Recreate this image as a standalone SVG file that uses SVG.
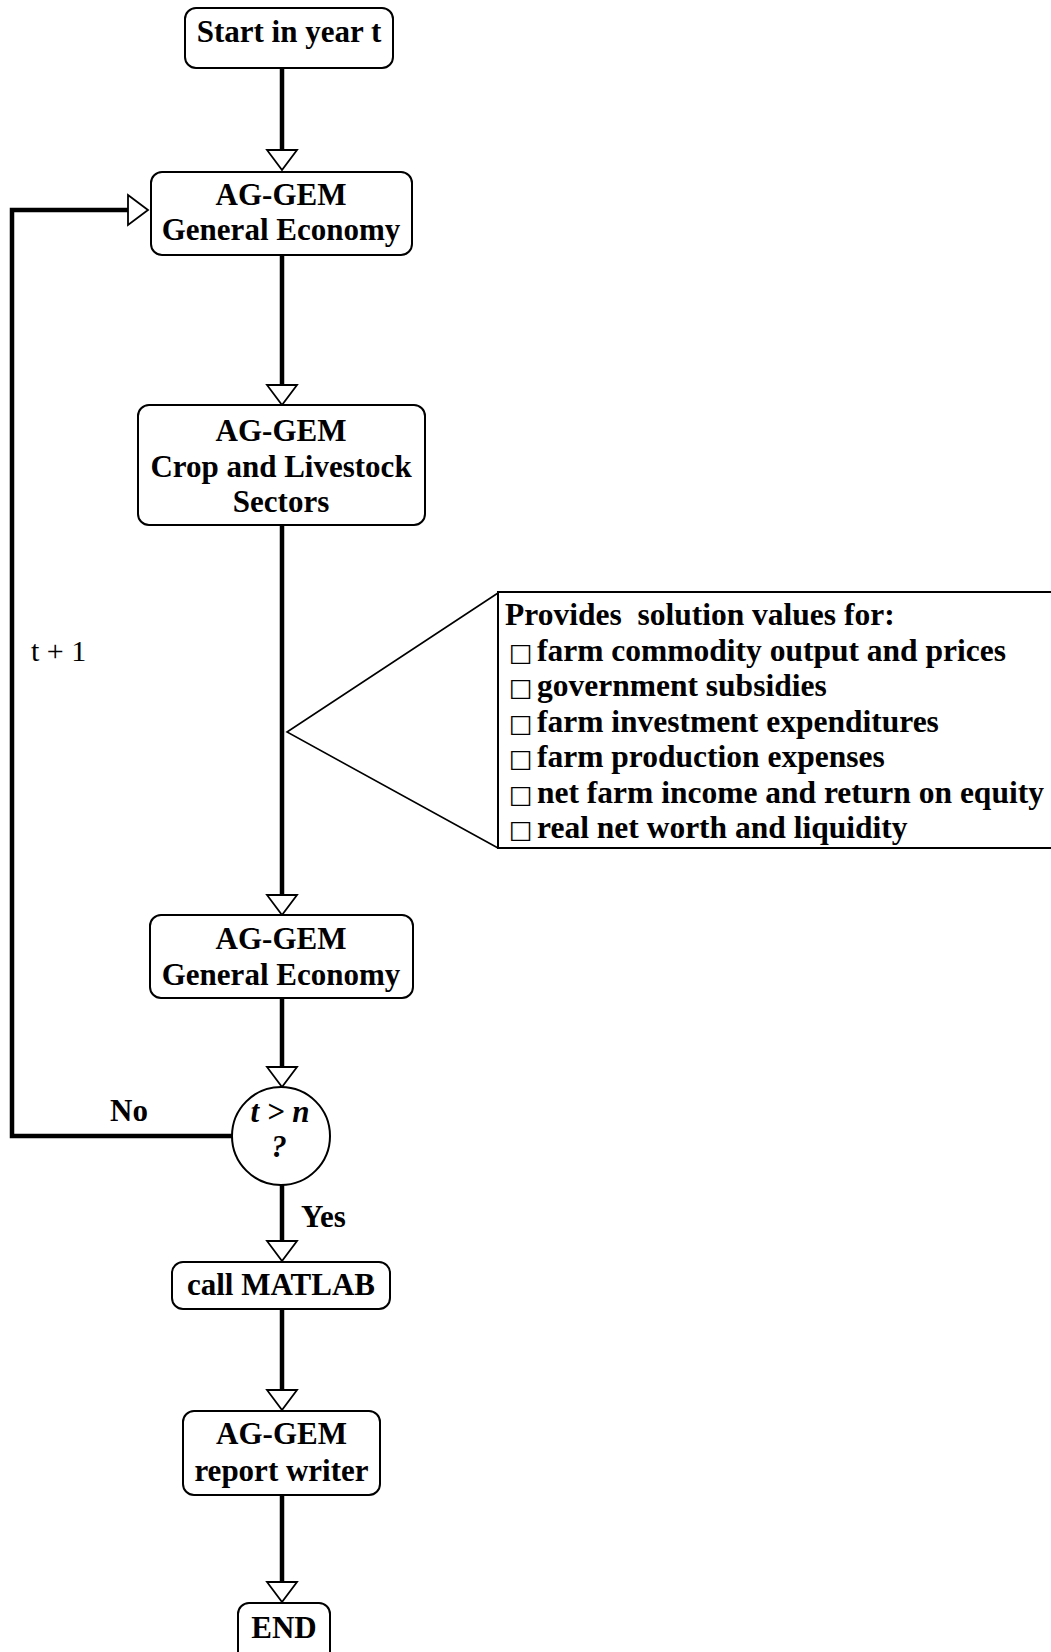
<svg xmlns="http://www.w3.org/2000/svg" width="1051" height="1652" viewBox="0 0 1051 1652">
<style>
  .bg { fill: #ffffff; }
  .box { fill: #ffffff; stroke: #000000; stroke-width: 2; }
  .t { font-family: "Liberation Serif", "Times New Roman", serif; font-weight: bold; font-size: 31px; fill: #000000; text-anchor: middle; }
  .lbl { font-family: "Liberation Serif", "Times New Roman", serif; font-weight: bold; font-size: 31px; fill: #000000; }
  .plain { font-family: "Liberation Serif", "Times New Roman", serif; font-weight: normal; font-size: 30px; fill: #000000; }
  .ct { font-family: "Liberation Serif", "Times New Roman", serif; font-weight: bold; font-size: 31.5px; fill: #000000; white-space: pre; }
  .sq { font-family: "DejaVu Sans", sans-serif; font-weight: normal; font-size: 25px; }
  .flow { fill: none; stroke: #000000; stroke-width: 4.5; }
  .thin { fill: none; stroke: #000000; stroke-width: 1.6; }
</style>
<defs>
  <marker id="hollow" markerUnits="userSpaceOnUse" viewBox="-2 -17 24 34" markerWidth="24" markerHeight="34" refX="0" refY="0" orient="auto">
    <path d="M0,-15 L20,0 L0,15 Z" fill="#ffffff" stroke="#000000" stroke-width="1.8"/>
  </marker>
</defs>
<rect class="bg" x="0" y="0" width="1051" height="1652"/>

<g id="connectors">
  <path class="flow" d="M282,68 V150" marker-end="url(#hollow)"/>
  <path class="flow" d="M282,255 V385" marker-end="url(#hollow)"/>
  <path class="flow" d="M282,525 V895" marker-end="url(#hollow)"/>
  <path class="flow" d="M282,998 V1067" marker-end="url(#hollow)"/>
  <path class="flow" d="M282,1185 V1241" marker-end="url(#hollow)"/>
  <path class="flow" d="M282,1309 V1390" marker-end="url(#hollow)"/>
  <path class="flow" d="M282,1495 V1582" marker-end="url(#hollow)"/>
  <path class="flow" d="M232,1136 H12 V210 H128" marker-end="url(#hollow)"/>
  <text class="plain" x="31" y="661">t + 1</text>
  <text class="lbl" x="110" y="1121">No</text>
  <text class="lbl" x="301" y="1227">Yes</text>
</g>

<g id="start">
  <rect class="box" x="185" y="8" width="208" height="60" rx="11"/>
  <text class="t" x="289" y="42">Start in year t</text>
</g>

<g id="gem-economy-1">
  <rect class="box" x="151" y="172" width="261" height="83" rx="11"/>
  <text class="t" x="281" y="205">AG-GEM</text>
  <text class="t" x="281" y="240">General Economy</text>
</g>

<g id="gem-crop-livestock">
  <rect class="box" x="138" y="405" width="287" height="120" rx="11"/>
  <text class="t" x="281" y="441">AG-GEM</text>
  <text class="t" x="281" y="477">Crop and Livestock</text>
  <text class="t" x="281" y="512">Sectors</text>
</g>

<g id="callout">
  <path class="thin" d="M498,593 L287,732 L498,848"/>
  <rect class="box" x="498" y="592" width="570" height="256"/>
  <text class="ct" x="505" y="625">Provides  solution values for:</text>
  <text class="ct" x="509" y="660.5"><tspan class="sq">□</tspan> <tspan x="537">farm commodity output and prices</tspan></text>
  <text class="ct" x="509" y="696"><tspan class="sq">□</tspan> <tspan x="537">government subsidies</tspan></text>
  <text class="ct" x="509" y="731.5"><tspan class="sq">□</tspan> <tspan x="537">farm investment expenditures</tspan></text>
  <text class="ct" x="509" y="767"><tspan class="sq">□</tspan> <tspan x="537">farm production expenses</tspan></text>
  <text class="ct" x="509" y="802.5"><tspan class="sq">□</tspan> <tspan x="537">net farm income and return on equity</tspan></text>
  <text class="ct" x="509" y="838"><tspan class="sq">□</tspan> <tspan x="537">real net worth and liquidity</tspan></text>
</g>

<g id="gem-economy-2">
  <rect class="box" x="150" y="915" width="263" height="83" rx="11"/>
  <text class="t" x="281" y="949">AG-GEM</text>
  <text class="t" x="281" y="985">General Economy</text>
</g>

<g id="decision">
  <circle class="box" cx="281" cy="1136" r="49"/>
  <text class="t" x="280" y="1122" font-style="italic">t &gt; n</text>
  <text class="t" x="279" y="1157" font-style="italic">?</text>
</g>

<g id="call-matlab">
  <rect class="box" x="172" y="1262" width="218" height="47" rx="11"/>
  <text class="t" x="281" y="1295">call MATLAB</text>
</g>

<g id="report-writer">
  <rect class="box" x="183" y="1411" width="197" height="84" rx="11"/>
  <text class="t" x="281.5" y="1444">AG-GEM</text>
  <text class="t" x="281.5" y="1481">report writer</text>
</g>

<g id="end">
  <rect class="box" x="238" y="1603" width="92" height="60" rx="11"/>
  <text class="t" x="284" y="1638">END</text>
</g>
</svg>
